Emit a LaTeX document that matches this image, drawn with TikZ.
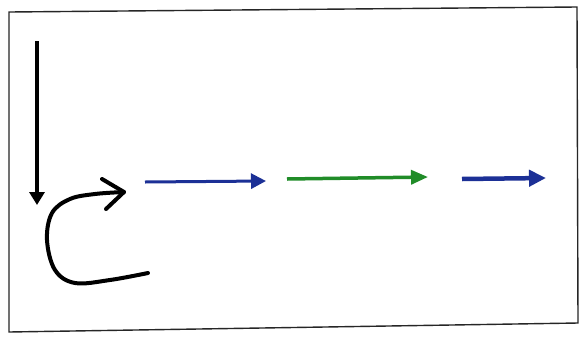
\documentclass[tikz,border=0pt]{standalone}
\usetikzlibrary{arrows.meta}
\definecolor{darkblue}{RGB}{28,48,150}
\definecolor{arrowgreen}{RGB}{32,140,40}
\tikzset{
  frame/.style={draw=black!85, line width=1.4pt},
  blackarrow/.style={draw=black, line width=4pt, -{Triangle[length=13pt,width=15pt]}},
  hand/.style={draw=black, line width=4pt, line cap=round, line join=round},
  bluearrow/.style={draw=darkblue, line width=3pt, -{Triangle[length=15pt,width=15pt]}},
  greenarrow/.style={draw=arrowgreen, line width=3.5pt, -{Triangle[length=17pt,width=14pt]}},
  bluearrowb/.style={draw=darkblue, line width=4.5pt, -{Triangle[length=17pt,width=16pt]}}
}
\begin{document}
\begin{tikzpicture}[x=1pt,y=-1pt]
\useasboundingbox (0,0) rectangle (581,338);
\fill[white] (0,0) rectangle (581,338);
% frame
\draw[frame] (9,12) -- (577,7) -- (578,323) -- (9,332) -- cycle;
% coordinates
\coordinate (d1) at (37,41);
\coordinate (d2) at (37,205);
\coordinate (a1) at (145,182);
\coordinate (a2) at (266,181);
\coordinate (g1) at (287,179);
\coordinate (g2) at (428,177);
\coordinate (b1) at (462,179);
\coordinate (b2) at (546,178);
\coordinate (c0) at (148,273);
\coordinate (ctip) at (124,192);
\coordinate (cu) at (102,179);
\coordinate (cl) at (106,209);
% down arrow
\draw[blackarrow] (d1) -- (d2);
% curved arrow
\draw[hand] plot[smooth, tension=0.6] coordinates {(148,273) (110,280) (75,283) (55,270) (47,240) (52,213) (70,199) (95,194) (124,192)};
\draw[hand] (cu) -- (ctip) -- (cl);
% colored arrows
\draw[bluearrow] (a1) -- (a2);
\draw[greenarrow] (g1) -- (g2);
\draw[bluearrowb] (b1) -- (b2);
\end{tikzpicture}
\end{document}
